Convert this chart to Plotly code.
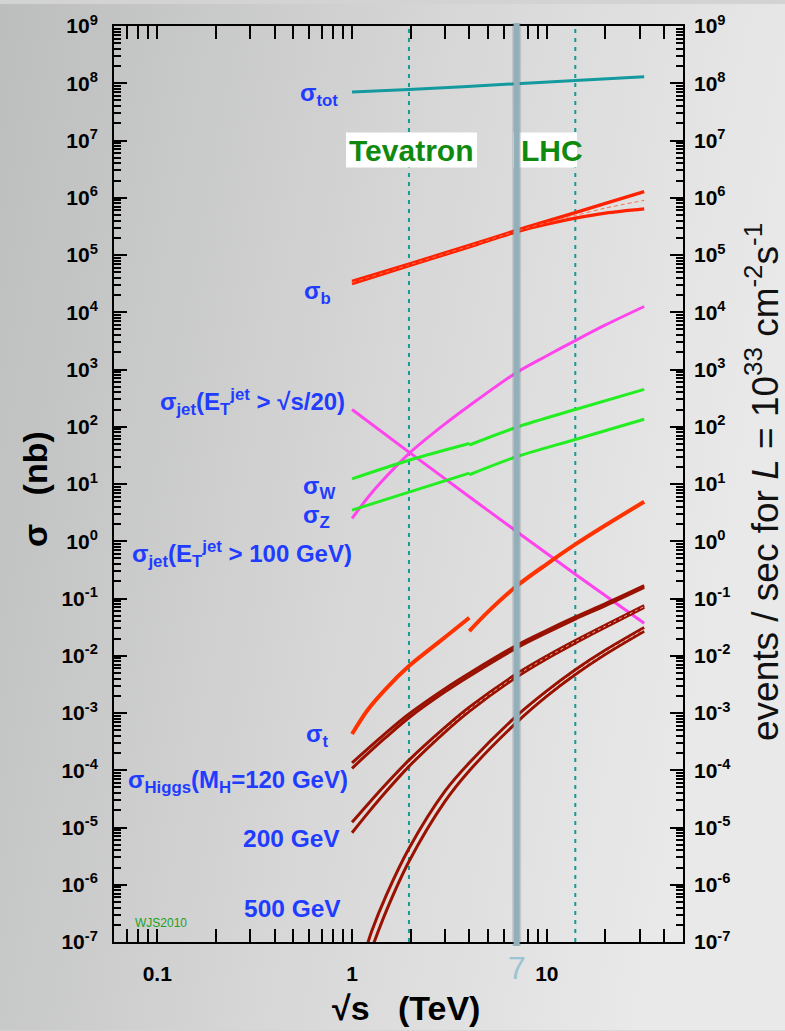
import base64
import numpy as np
import plotly.graph_objects as go

# ---------------- data ----------------
tot_x = [1, 1.96, 7, 14, 31.6]
tot_y = [7.0e7, 7.8e7, 9.8e7, 1.12e8, 1.3e8]

b_x = [1, 1.96, 4, 7, 10, 14, 20, 31.6]
b_hi = [3.45e4, 6.95e4, 1.47e5, 2.7e5, 3.9e5, 5.5e5, 8.0e5, 1.28e6]
b_lo = [3.15e4, 6.5e4, 1.39e5, 2.55e5, 3.45e5, 4.4e5, 5.4e5, 6.4e5]
b_mid = [3.3e4, 6.7e4, 1.43e5, 2.62e5, 3.67e5, 4.9e5, 6.6e5, 9.0e5]

jet20_x = [1, 1.96, 4, 7, 10, 14, 31.6]
jet20_y = [200, 36, 6.0, 1.48, 0.61, 0.266, 0.037]

jet100_x = [1, 1.2, 1.4, 1.96, 3, 4, 7, 10, 14, 20, 31.6]
jet100_y = [2.5, 5.7, 10.5, 34, 112, 233, 890, 1740, 3200, 6000, 1.26e4]

w_ppbar_x = [1, 1.96, 4]
w_ppbar_y = [12.3, 26, 51]
w_pp_x = [4, 7, 14, 31.6]
w_pp_y = [48, 98, 200, 450]

z_ppbar_x = [1, 1.96, 4]
z_ppbar_y = [3.5, 7.2, 15.5]
z_pp_x = [4, 7, 14, 31.6]
z_pp_y = [14.5, 30, 60, 135]

top_ppbar_x = [1, 1.2, 1.5, 1.96, 2.5, 3, 4]
top_ppbar_y = [4.3e-4, 1.12e-3, 2.7e-3, 6.6e-3, 0.0129, 0.021, 0.046]
top_pp_x = [4, 5, 7, 10, 14, 20, 31.6]
top_pp_y = [0.027, 0.059, 0.165, 0.40, 0.88, 1.9, 4.9]

h_x = [1, 1.2, 1.5, 1.96, 3, 4, 7, 10, 14, 20, 31.6]
h120_hi = [1.35e-4, 2.35e-4, 4.55e-4, 9.6e-4, 2.66e-3, 4.95e-3, 0.0152, 0.0278, 0.0476, 0.0815, 0.168]
h120_lo = [1.08e-4, 1.93e-4, 3.82e-4, 8.26e-4, 2.34e-3, 4.4e-3, 0.0137, 0.0253, 0.0438, 0.075, 0.156]
h200_hi = [1.23e-5, 2.5e-5, 5.8e-5, 1.5e-4, 5.6e-4, 1.26e-3, 4.83e-3, 9.9e-3, 0.0184, 0.0344, 0.075]
h200_lo = [8.1e-6, 1.75e-5, 4.3e-5, 1.17e-4, 4.65e-4, 1.07e-3, 4.25e-3, 8.9e-3, 0.0167, 0.0316, 0.0698]
h200_mid = [1.0e-5, 2.1e-5, 5.0e-5, 1.32e-4, 5.1e-4, 1.16e-3, 4.54e-3, 9.4e-3, 0.0176, 0.033, 0.0724]

h500_hi_x = [1.18, 1.26, 1.5, 1.96, 3, 4, 7, 10, 14, 20, 31.6]
h500_hi = [7.6e-8, 1.53e-7, 6.6e-7, 4.3e-6, 4.3e-5, 1.35e-4, 8.9e-4, 2.43e-3, 5.7e-3, 0.0126, 0.0312]
h500_lo_x = [1.28, 1.5, 1.96, 3, 4, 7, 10, 14, 20, 31.6]
h500_lo = [8.7e-8, 3.5e-7, 2.54e-6, 2.85e-5, 9.8e-5, 6.85e-4, 1.97e-3, 4.7e-3, 0.0106, 0.0268]
h500_mid_x = [1.26, 1.5, 1.96, 3, 4, 7, 10, 14, 20, 31.6]
h500_mid = [1.07e-7, 4.8e-7, 3.3e-6, 3.5e-5, 1.15e-4, 7.8e-4, 2.19e-3, 5.17e-3, 0.01155, 0.0289]

tevatron_energy = 1.96
lhc_energies = [7, 14]

x_tick_vals = [0.1, 1, 10]
x_tick_text = ["0.1", "1", "10"]
y_exponents = list(range(-7, 10))
y_tick_text = ["10<sup>%d</sup>" % e for e in y_exponents]

# ---------------- layout geometry ----------------
W, H = 785, 1031
ML, MR, MT, MB = 114, 102, 22, 89
PW, PH = W - ML - MR, H - MT - MB


def px(xp):
    return (xp - ML) / PW


def py(yp):
    return (H - MB - yp) / PH


FONT = "Liberation Sans, Arial, Helvetica, sans-serif"
BLUE = "#1f3cff"

fig = go.Figure()


def add(x, y, color, width, dash=None, yaxis="y", smoothing=0.9):
    fig.add_trace(go.Scatter(
        x=x, y=y, mode="lines", yaxis=yaxis,
        line=dict(color=color, width=width, dash=dash, shape="spline", smoothing=smoothing),
        hoverinfo="skip", showlegend=False))


add(tot_x, tot_y, "#139a9e", 3, yaxis="y2")
add(b_x, b_hi, "#ff2200", 3.4)
add(b_x, b_lo, "#ff2200", 3.4)
add(b_x, b_mid, "#ff6a4a", 1, dash="4px,3px")
add(jet20_x, jet20_y, "#ff44ee", 3)
add(jet100_x, jet100_y, "#ff44ee", 3)
add(w_ppbar_x, w_ppbar_y, "#22ee22", 3)
add(w_pp_x, w_pp_y, "#22ee22", 3)
add(z_ppbar_x, z_ppbar_y, "#22ee22", 3)
add(z_pp_x, z_pp_y, "#22ee22", 3)
add(top_ppbar_x, top_ppbar_y, "#ff3300", 4)
add(top_pp_x, top_pp_y, "#ff3300", 4)
HR = "#991100"
add(h_x, h120_hi, HR, 3)
add(h_x, h120_lo, HR, 3)
add(h_x, h200_hi, HR, 3)
add(h_x, h200_lo, HR, 3)
add(h_x, h200_mid, "rgba(255,215,200,0.8)", 1, dash="3px,3px")
add(h500_hi_x, h500_hi, HR, 3)
add(h500_lo_x, h500_lo, HR, 3)
add(h500_mid_x, h500_mid, "rgba(255,215,200,0.85)", 1, dash="3px,3px")

# minor tick positions
minor_y = [m * 10.0 ** e for e in range(-7, 9) for m in range(2, 10)]
minor_x = [m * 10.0 ** e for e in range(-2, 2) for m in range(2, 10)]
minor_x = [v for v in minor_x if 0.06 <= v <= 50]

common_ax = dict(showgrid=False, zeroline=False, showline=True, linecolor="black", linewidth=2,
                 ticks="inside", tickcolor="black", tickwidth=1.6, mirror="allticks",
                 tickfont=dict(family=FONT, size=21, color="black", weight="bold"))

xaxis = dict(type="log", range=[np.log10(0.06), np.log10(50)], tickmode="array",
             tickvals=x_tick_vals, ticktext=x_tick_text, ticklen=13, ticklabelstandoff=12,
             minor=dict(tickmode="array", tickvals=minor_x, ticks="inside", ticklen=7,
                        tickwidth=1.6, tickcolor="black", showgrid=False),
             **common_ax)
yaxis = dict(type="log", range=[-7, 9], tickmode="array",
             tickvals=[10.0 ** e for e in y_exponents], ticktext=y_tick_text, ticklen=13,
             ticklabelstandoff=10,
             minor=dict(tickmode="array", tickvals=minor_y, ticks="inside", ticklen=7,
                        tickwidth=1.6, tickcolor="black", showgrid=False),
             **common_ax)
yaxis2 = dict(type="log", range=[-7, 9], overlaying="y", side="right", tickmode="array",
              tickvals=[10.0 ** e for e in y_exponents], ticktext=y_tick_text, ticks="",
              showline=False, showgrid=False, zeroline=False, ticklabelstandoff=10,
              tickfont=dict(family=FONT, size=21, color="black", weight="bold"))

# background gradient
svg = ('<svg xmlns="http://www.w3.org/2000/svg" width="785" height="1031">'
       '<defs><linearGradient id="g" x1="0" y1="0" x2="1" y2="0.25">'
       '<stop offset="0" stop-color="#bcbdbd"/><stop offset="0.55" stop-color="#d7d7d7"/>'
       '<stop offset="1" stop-color="#e9e9e9"/></linearGradient></defs>'
       '<rect width="785" height="1031" fill="url(#g)"/></svg>')
src = "data:image/svg+xml;base64," + base64.b64encode(svg.encode()).decode()

shapes = []
for e in [tevatron_energy, lhc_energies[1]]:
    shapes.append(dict(type="line", xref="x", yref="paper", x0=e, x1=e,
                       y0=0, y1=1, layer="below",
                       line=dict(color="#139a9a", width=2, dash="4px,5px")))
# white label boxes
shapes.append(dict(type="rect", xref="paper", yref="paper", x0=px(346), x1=px(477),
                   y0=py(164), y1=py(129), fillcolor="white", line=dict(width=0), layer="above"))
shapes.append(dict(type="rect", xref="paper", yref="paper", x0=px(513), x1=px(577),
                   y0=py(164), y1=py(129), fillcolor="white", line=dict(width=0), layer="above"))
# 7 TeV bar
e7 = lhc_energies[0]
shapes.append(dict(type="line", xref="x", yref="paper", x0=e7, x1=e7, y0=py(946), y1=py(19),
                   layer="above", line=dict(color="rgba(90,110,120,0.22)", width=9)))
shapes.append(dict(type="line", xref="x", yref="paper", x0=e7, x1=e7, y0=py(946), y1=py(19),
                   layer="above", line=dict(color="#93b0ba", width=6)))

ann = []


def label(text, xr, yc, size=24, color=BLUE, anchor="right", weight="bold", angle=0, family=FONT):
    ann.append(dict(text=text, x=px(xr), y=py(yc), xref="paper", yref="paper", showarrow=False,
                    xanchor=anchor, yanchor="middle", textangle=angle,
                    font=dict(family=family, size=size, color=color, weight=weight)))


NB = "\u00a0"
label("σ<sub>tot</sub>", 340, 91)
label("σ<sub>b</sub>", 333, 290)
label("σ<sub>jet</sub>(E<sub>T</sub><sup>jet</sup> > √s/20)", 347, 400)
label("σ<sub>W</sub>", 337, 486)
label("σ<sub>Z</sub>", 332, 515)
label("σ<sub>jet</sub>(E<sub>T</sub><sup>jet</sup> > 100 GeV)", 354, 552)
label("σ<sub>t</sub>", 330, 735)
label("σ<sub>Higgs</sub>(M<sub>H</sub>=120 GeV)", 350, 781)
label("200 GeV", 342, 838, size=24.5)
label("500 GeV", 343, 908, size=24.5)
label("WJS2010", 133, 923, size=12, color="#22a022", anchor="left", weight="normal")
label("Tevatron", 347, 147, size=30, color="#0f8a0f", anchor="left")
label("LHC", 519, 147, size=30, color="#0f8a0f", anchor="left")
label("7", 517, 968, size=32, color="#9cc4d2", anchor="center", weight="normal")
label("σ" + NB * 3 + "(nb)", 35, 487, size=34, color="black", anchor="center", angle=-90)
label("√s" + NB * 3 + "(TeV)", 406, 1008, size=34, color="black", anchor="center")
label("events / sec for <i>L</i> = 10<sup>33</sup> cm<sup>-2</sup>s<sup>-1</sup>", 762, 480,
      size=37, color="#111111", anchor="center", weight="normal", angle=-90)

fig.update_layout(
    width=W, height=H, autosize=False,
    margin=dict(l=ML, r=MR, t=MT, b=MB, pad=0),
    paper_bgcolor="#d3d3d3", plot_bgcolor="rgba(0,0,0,0)",
    xaxis=xaxis, yaxis=yaxis, yaxis2=yaxis2,
    shapes=shapes, annotations=ann,
    images=[dict(source=src, xref="paper", yref="paper", x=px(0), y=py(0),
                 sizex=px(W) - px(0), sizey=py(0) - py(H), xanchor="left", yanchor="top",
                 sizing="stretch", layer="below")],
    showlegend=False,
)

fig.write_html("out.html")
